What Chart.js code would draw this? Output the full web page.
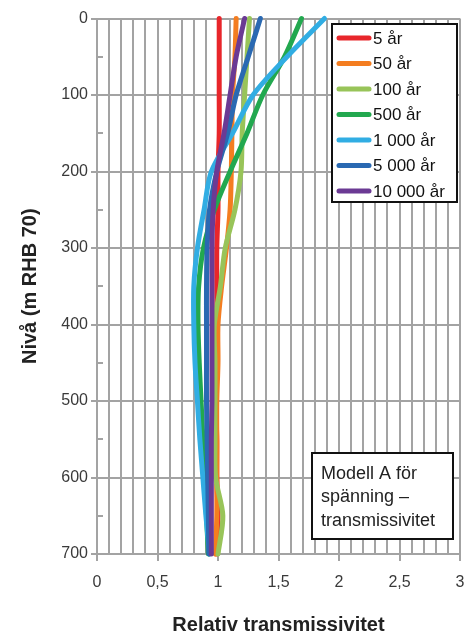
<!DOCTYPE html>
<html>
<head>
<meta charset="utf-8">
<script src="https://cdn.jsdelivr.net/npm/chart.js@4.4.1/dist/chart.umd.min.js"></script>
<style>
  html, body { margin: 0; padding: 0; background: #fff; }
  #wrap { width: 468px; height: 632px; }
</style>
</head>
<body>
<div id="wrap"><canvas id="c" width="468" height="632"></canvas></div>
<script>
// Depth levels (m RHB 70)
const depths = [0, 50, 100, 150, 200, 250, 300, 350, 400, 450, 500, 550, 600, 650, 700];

// Relative transmissivity per time horizon, one value per depth level
const t5     = [1.01, 1.01, 1.01, 1.01, 1.00, 1.00, 0.99, 0.99, 0.99, 0.98, 0.98, 0.99, 0.99, 1.00, 0.99];
const t50    = [1.15, 1.14, 1.12, 1.115, 1.11, 1.10, 1.07, 1.03, 1.00, 1.00, 0.99, 0.99, 0.99, 0.99, 0.98];
const t100   = [1.26, 1.24, 1.22, 1.20, 1.19, 1.14, 1.06, 1.02, 0.97, 0.975, 0.975, 0.975, 0.98, 1.04, 1.00];
const t500   = [1.69, 1.55, 1.37, 1.24, 1.10, 0.97, 0.88, 0.84, 0.835, 0.845, 0.86, 0.875, 0.89, 0.905, 0.92];
const t1000  = [1.88, 1.57, 1.29, 1.12, 0.945, 0.885, 0.83, 0.80, 0.80, 0.81, 0.83, 0.85, 0.875, 0.90, 0.93];
const t5000  = [1.35, 1.25, 1.15, 1.08, 0.99, 0.93, 0.91, 0.905, 0.905, 0.905, 0.905, 0.91, 0.915, 0.92, 0.925];
const t10000 = [1.22, 1.15, 1.10, 1.05, 0.99, 0.96, 0.95, 0.95, 0.95, 0.95, 0.95, 0.945, 0.945, 0.945, 0.945];

const seriesLabels = ['5 år', '50 år', '100 år', '500 år', '1 000 år', '5 000 år', '10 000 år'];
const seriesValues = [t5, t50, t100, t500, t1000, t5000, t10000];
const seriesColors = ['#e8262b', '#f47d20', '#98c459', '#22a84f', '#31ade3', '#2a69b2', '#6b3a94'];

// Axis tick labels
const xTickLabels = ['0', '0,5', '1', '1,5', '2', '2,5', '3'];
const yTickLabels = ['0', '100', '200', '300', '400', '500', '600', '700'];

const noteLines = ['Modell A för', 'spänning –', 'transmissivitet'];

const GRID = '#a3a3a3';
const FONT = "'Liberation Sans', Arial, sans-serif";

const datasets = seriesLabels.map((label, i) => ({
  label,
  data: depths.map((d, k) => ({ x: seriesValues[i][k], y: d })),
  showLine: true,
  borderColor: seriesColors[i],
  backgroundColor: seriesColors[i],
  borderWidth: 5,
  borderCapStyle: 'round',
  borderJoinStyle: 'round',
  pointRadius: 0,
  pointHoverRadius: 0,
  tension: 0.3,
  fill: false,
  clip: false,
  order: seriesLabels.length - i   // later series drawn on top
}));

// Short inward ticks at the half-hundreds, legend box and note box
const overlay = {
  id: 'overlay',
  afterDraw(chart) {
    const ctx = chart.ctx;
    const ca = chart.chartArea;
    const ys = chart.scales.y;

    ctx.save();
    ctx.strokeStyle = GRID;
    ctx.lineWidth = 2;
    for (let v = 50; v < 700; v += 100) {
      const py = Math.round(ys.getPixelForValue(v));
      ctx.beginPath();
      ctx.moveTo(ca.left, py);
      ctx.lineTo(ca.left + 6, py);
      ctx.stroke();
    }

    // legend
    const lx = ca.right - 128, ly = ca.top + 5.5, lw = 125, lh = 178;
    ctx.fillStyle = '#fff';
    ctx.fillRect(lx, ly, lw, lh);
    ctx.strokeStyle = '#111';
    ctx.lineWidth = 2;
    ctx.strokeRect(lx, ly, lw, lh);
    ctx.font = '17px ' + FONT;
    ctx.textBaseline = 'middle';
    ctx.textAlign = 'left';
    chart.data.datasets.forEach((ds, i) => {
      const cy = ly + 14 + i * 25.5;
      ctx.strokeStyle = ds.borderColor;
      ctx.lineWidth = 5;
      ctx.lineCap = 'round';
      ctx.beginPath();
      ctx.moveTo(lx + 7, cy);
      ctx.lineTo(lx + 37, cy);
      ctx.stroke();
      ctx.fillStyle = '#111';
      ctx.fillText(ds.label, lx + 41, cy + 1);
    });

    // note box
    const nx = ca.left + 215, ny = 453, nw = 141, nh = 86;
    ctx.fillStyle = '#fff';
    ctx.fillRect(nx, ny, nw, nh);
    ctx.strokeStyle = '#111';
    ctx.lineWidth = 2;
    ctx.strokeRect(nx, ny, nw, nh);
    ctx.fillStyle = '#222';
    ctx.font = '18px ' + FONT;
    noteLines.forEach((t, i) => ctx.fillText(t, nx + 9, ny + 21 + i * 23.5));
    ctx.restore();
  }
};

new Chart(document.getElementById('c'), {
  type: 'scatter',
  data: { datasets },
  options: {
    responsive: false,
    animation: false,
    devicePixelRatio: 1,
    layout: { padding: { top: 18.5, right: 8, left: 0, bottom: 0 } },
    plugins: {
      legend: { display: false },
      tooltip: { enabled: false }
    },
    scales: {
      x: {
        type: 'linear',
        min: 0,
        max: 3,
        afterFit(scale) {
          scale.height = 78;
          scale.paddingLeft = 0;
          scale.paddingRight = 0;
        },
        ticks: {
          stepSize: 0.1,
          autoSkip: false,
          maxRotation: 0,
          padding: 12,
          color: '#3a3a3a',
          font: { family: FONT, size: 16 },
          callback(v) {
            const r = Math.round(v * 10);
            return r % 5 === 0 ? xTickLabels[r / 5] : '';
          }
        },
        grid: {
          color: GRID,
          lineWidth: 2,
          tickLength: 7,
          tickColor(c) {
            return Math.round(c.tick.value * 10) % 5 === 0 ? GRID : 'rgba(0,0,0,0)';
          }
        },
        border: { color: GRID, width: 2 },
        title: {
          display: true,
          text: 'Relativ transmissivitet',
          color: '#222',
          font: { family: FONT, size: 20, weight: 'bold' },
          padding: -5
        }
      },
      y: {
        type: 'linear',
        reverse: true,
        min: 0,
        max: 700,
        afterFit(scale) { scale.width = 97; },
        ticks: {
          stepSize: 50,
          autoSkip: false,
          padding: 3,
          color: '#3a3a3a',
          font: { family: FONT, size: 16 },
          callback(v) {
            return v % 100 === 0 ? yTickLabels[v / 100] : '';
          }
        },
        grid: {
          lineWidth: 2,
          tickLength: 6,
          color(c) { return c.tick && c.tick.value % 100 === 0 ? GRID : 'rgba(0,0,0,0)'; },
          tickColor(c) { return c.tick && c.tick.value % 100 === 0 ? GRID : 'rgba(0,0,0,0)'; }
        },
        border: { color: GRID, width: 2 },
        title: {
          display: true,
          text: 'Nivå (m RHB 70)',
          color: '#222',
          font: { family: FONT, size: 20, weight: 'bold' },
          padding: 18
        }
      }
    }
  },
  plugins: [overlay]
});
</script>
</body>
</html>
